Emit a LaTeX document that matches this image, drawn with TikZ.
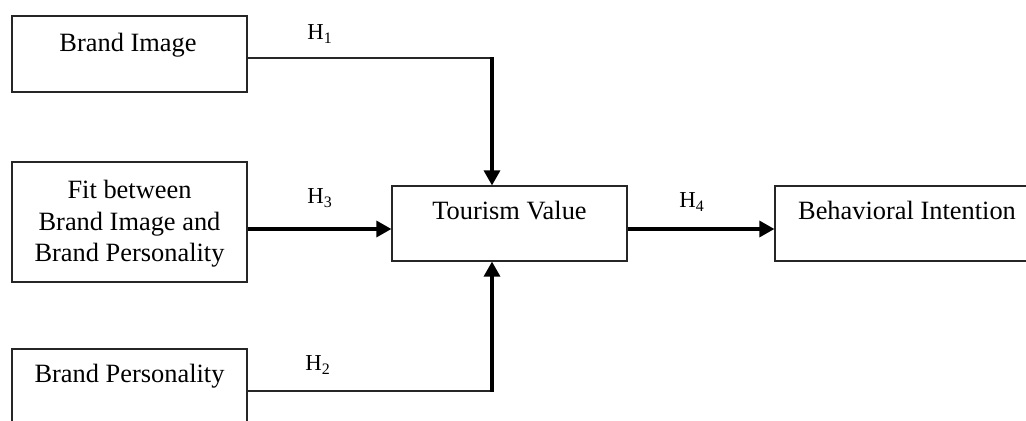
\documentclass[tikz,border=0pt]{standalone}
\usepackage{fontspec}
\setmainfont{Liberation Serif}
\usetikzlibrary{arrows.meta,calc}
\tikzset{
  box/.style={draw=black!85, line width=0.6pt, rectangle, inner sep=0pt, minimum width=117.5pt},
  boxtxt/.style={font=\fontsize{13.2pt}{15.75pt}\selectfont, inner sep=0pt, anchor=base, align=center},
  hlab/.style={font=\fontsize{11.4pt}{13pt}\selectfont, inner sep=0pt, anchor=base west},
  thinline/.style={draw=black!85, line width=0.6pt},
  arrowline/.style={draw=black, line width=1.6pt, -{Triangle[length=7.5pt,width=8pt]}, shorten >=0pt}
}
\begin{document}
\begin{tikzpicture}[x=0.5pt,y=-0.5pt]
\clip (0,0) rectangle (1026,421);
\fill[white] (0,0) rectangle (1026,421);
% boxes
\node[box, minimum height=38pt] (bimg) at (129.5,54) {};
\node[box, minimum height=60pt] (fit) at (129.5,222) {};
\node[box, minimum height=38pt] (bp) at (129.5,387) {};
\node[box, minimum height=37.5pt] (tv) at (509.5,223.5) {};
\node[box, minimum width=135pt, minimum height=37.5pt] (bint) at (910,223.5) {};
% texts
\node[boxtxt] (tbimg) at (128,52) {Brand Image};
\node[boxtxt, anchor=center] (tfit) at (129.5,224) {Fit between\\Brand Image and\\Brand Personality};
\node[boxtxt] (tbp) at (129.5,383) {Brand Personality};
\node[boxtxt] (ttv) at (509.5,220) {Tourism Value};
\node[boxtxt] (tbint) at (907,220) {Behavioral Intention};
% connector corners
\coordinate (c1) at (492,58);
\coordinate (c2) at (492,391);
% H1
\draw[thinline] (bimg.east |- c1) -- ($(c1)+(0.8,0)$);
\draw[arrowline] ($(c1)+(0,-0.6)$) -- (tv.north -| c1);
% H2
\draw[thinline] (bp.east |- c2) -- ($(c2)+(0.8,0)$);
\draw[arrowline] ($(c2)+(0,0.6)$) -- (tv.south -| c2);
% H3
\draw[arrowline] ($(fit.east)+(0,7)$) -- ($(tv.west)+(0,5.5)$);
% H4
\draw[arrowline] ($(tv.east)+(0,5.5)$) -- ($(bint.west)+(0,5.5)$);
% labels
\node[hlab] (h1) at (307,40) {H\textsubscript{1}};
\node[hlab] (h3) at (307,204) {H\textsubscript{3}};
\node[hlab] (h2) at (305,371) {H\textsubscript{2}};
\node[hlab] (h4) at (679,208) {H\textsubscript{4}};
\end{tikzpicture}
\end{document}
